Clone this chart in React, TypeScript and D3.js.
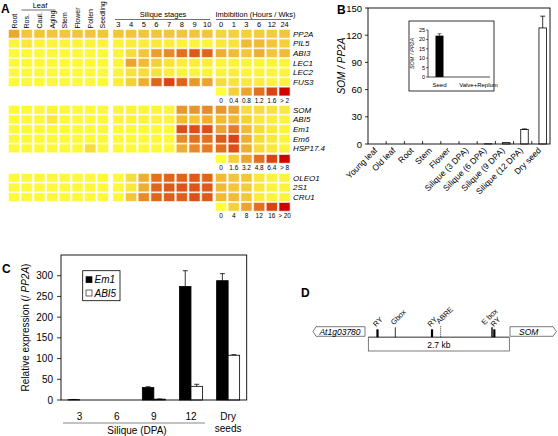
import React from "react";
import * as d3 from "d3";

// ---------- Panel A data ----------
const tissues = ["Root", "Ros.", "Caul.", "Aging", "Stem", "Flower", "Pollen", "Seedling"];
const siliqueStages = ["3", "4", "5", "6", "7", "8", "9", "10"];
const imbibitionTimes = ["0", "1", "3", "6", "12", "24"];

const genesBlock1 = ["PP2A", "PIL5", "ABI3", "LEC1", "LEC2", "FUS3"];
// 8 tissues | 8 silique stages | 6 imbibition (normalised 0..1 of legend range)
const valuesBlock1 = [
  [0.38, 0.25, 0.25, 0.25, 0.25, 0.25, 0.25, 0.25, 0.25, 0.25, 0.25, 0.25, 0.25, 0.25, 0.25, 0.25, 0.18, 0.2, 0.2, 0.22, 0.22, 0.25],
  [0.05, 0.1, 0.05, 0.05, 0.05, 0.05, 0.05, 0.05, 0.05, 0.08, 0.08, 0.1, 0.08, 0.05, 0.05, 0.05, 0.1, 0.12, 0.3, 0.3, 0.25, 0.2],
  [0.03, 0.03, 0.03, 0.03, 0.03, 0.03, 0.03, 0.03, 0.05, 0.15, 0.25, 0.42, 0.5, 0.6, 0.7, 0.65, 0.35, 0.3, 0.25, 0.35, 0.25, 0.3],
  [0.03, 0.03, 0.03, 0.03, 0.03, 0.03, 0.03, 0.03, 0.05, 0.4, 0.3, 0.2, 0.12, 0.08, 0.08, 0.08, 0.05, 0.05, 0.05, 0.05, 0.05, 0.05],
  [0.03, 0.03, 0.03, 0.03, 0.03, 0.03, 0.03, 0.03, 0.05, 0.12, 0.15, 0.12, 0.08, 0.05, 0.05, 0.05, 0.05, 0.08, 0.05, 0.05, 0.05, 0.05],
  [0.03, 0.03, 0.03, 0.03, 0.03, 0.03, 0.03, 0.03, 0.08, 0.2, 0.35, 0.65, 0.8, 0.65, 0.45, 0.4, 0.15, 0.12, 0.1, 0.08, 0.05, 0.05],
];
const legendLabels1 = ["0", "0.4", "0.8", "1.2", "1.6", "> 2"];

const genesBlock2 = ["SOM", "ABI5", "Em1", "Em6", "HSP17.4"];
const valuesBlock2 = [
  [0.03, 0.03, 0.03, 0.05, 0.03, 0.03, 0.03, 0.03, 0.05, 0.05, 0.05, 0.05, 0.05, 0.45, 0.45, 0.5, 0.45, 0.4, 0.15, 0.15, 0.12, 0.1],
  [0.03, 0.03, 0.03, 0.1, 0.03, 0.03, 0.03, 0.03, 0.05, 0.05, 0.05, 0.05, 0.05, 0.3, 0.25, 0.35, 0.3, 0.3, 0.2, 0.1, 0.08, 0.05],
  [0.03, 0.03, 0.03, 0.03, 0.03, 0.03, 0.03, 0.03, 0.03, 0.03, 0.03, 0.03, 0.03, 0.75, 0.75, 0.75, 0.4, 0.55, 0.3, 0.15, 0.1, 0.05],
  [0.03, 0.03, 0.03, 0.03, 0.03, 0.03, 0.03, 0.03, 0.03, 0.03, 0.03, 0.03, 0.03, 0.5, 0.6, 0.6, 0.7, 0.8, 0.35, 0.15, 0.1, 0.05],
  [0.03, 0.03, 0.03, 0.03, 0.03, 0.03, 0.15, 0.03, 0.03, 0.03, 0.03, 0.03, 0.03, 0.35, 0.5, 0.55, 0.6, 0.75, 0.35, 0.15, 0.1, 0.05],
];
const legendLabels2 = ["0", "1.6", "3.2", "4.8", "6.4", "> 8"];

const genesBlock3 = ["OLEO1", "2S1", "CRU1"];
const valuesBlock3 = [
  [0.03, 0.03, 0.03, 0.03, 0.03, 0.03, 0.03, 0.03, 0.03, 0.15, 0.35, 0.6, 0.65, 0.65, 0.7, 0.65, 0.3, 0.25, 0.25, 0.1, 0.05, 0.05],
  [0.03, 0.03, 0.03, 0.03, 0.03, 0.03, 0.03, 0.03, 0.03, 0.1, 0.35, 0.65, 0.7, 0.72, 0.72, 0.7, 0.3, 0.25, 0.22, 0.1, 0.05, 0.05],
  [0.03, 0.03, 0.03, 0.03, 0.03, 0.03, 0.03, 0.03, 0.03, 0.25, 0.5, 0.65, 0.68, 0.68, 0.75, 0.7, 0.3, 0.3, 0.25, 0.08, 0.05, 0.05],
];
const legendLabels3 = ["0", "4", "8", "12", "16", "> 20"];

// ---------- Panel B data ----------
const bCategories = ["Young leaf", "Old leaf", "Root", "Stem", "Flower", "Silique (3 DPA)", "Silique (6 DPA)", "Silique (9 DPA)", "Silique (12 DPA)", "Dry seed"];
const bValues = [0, 0, 0, 0, 0, 0, 0.2, 1.5, 16, 128];
const bErrors = [0, 0, 0, 0, 0, 0, 0, 0.3, 0.6, 13];
const bTicks = [0, 30, 60, 90, 120, 150];
const insetCategories = ["Seed", "Valve+Replum"];
const insetValues = [22, 0];
const insetErrors = [1, 0];
const insetTicks = [0, 5, 10, 15, 20, 25];

// ---------- Panel C data ----------
const cCategories = ["3", "6", "9", "12", "Dry seeds"];
const em1Values = [0.8, 0.3, 30, 274, 288];
const em1Errors = [0.5, 0, 2, 38, 17];
const abi5Values = [0.3, 0.2, 2, 33, 108];
const abi5Errors = [0, 0, 0.5, 5, 1.5];
const cTicks = [0, 50, 100, 150, 200, 250, 300];

// ---------- Panel D data ----------
const promoterLengthBp = 2700;
const promoterElements = [
  { name: "RY", pos: 176, kind: "thick", labelShift: 0 },
  { name: "Gbox", pos: 517, kind: "thin", labelShift: 0 },
  { name: "RY", pos: 1220, kind: "thick", labelShift: 0 },
  { name: "ABRE", pos: 1386, kind: "dotted", labelShift: 0 },
  { name: "E box", pos: 2369, kind: "thin", labelShift: -6 },
  { name: "RY", pos: 2413, kind: "thick", labelShift: 1 },
];

const FONT = "Liberation Sans, Arial, sans-serif";

const heatColor = d3
  .scaleLinear<string>()
  .domain([0, 0.2, 0.4, 0.6, 0.8, 1])
  .range(["#ffff3a", "#f4d13a", "#eba430", "#e2701f", "#da4414", "#d20000"])
  .clamp(true);

const PITCH = 12.7;
const xTissue = d3.scaleBand<string>().domain(tissues).range([7.7, 7.7 + 8 * PITCH]).paddingInner(0.2).paddingOuter(0.1);
const xSilique = d3.scaleBand<string>().domain(siliqueStages).range([112, 112 + 8 * PITCH]).paddingInner(0.2).paddingOuter(0.1);
const xImbib = d3.scaleBand<string>().domain(imbibitionTimes).range([214.7, 214.7 + 6 * PITCH]).paddingInner(0.2).paddingOuter(0.1);

const ROWP = 9.65;

function cellXs(): { x: number; w: number }[] {
  const xs: { x: number; w: number }[] = [];
  tissues.forEach((t) => xs.push({ x: xTissue(t)!, w: xTissue.bandwidth() }));
  siliqueStages.forEach((t) => xs.push({ x: xSilique(t)!, w: xSilique.bandwidth() }));
  imbibitionTimes.forEach((t) => xs.push({ x: xImbib(t)!, w: xImbib.bandwidth() }));
  return xs;
}

function HeatBlock({ genes, values, y0, legend, legendY }: { genes: string[]; values: number[][]; y0: number; legend: string[]; legendY: number }) {
  const yScale = d3.scaleBand<string>().domain(genes).range([y0, y0 + genes.length * ROWP]).paddingInner(0.2).paddingOuter(0.1);
  const xs = cellXs();
  const legendScale = d3.scaleLinear().domain([0, legend.length - 1]).range([0, 1]);
  return (
    <g>
      {genes.map((g, r) => (
        <g key={g}>
          {values[r].map((v, c) => (
            <rect key={c} x={xs[c].x} y={yScale(g)!} width={xs[c].w} height={yScale.bandwidth()} fill={heatColor(v)} stroke={heatColor(v)} strokeOpacity={0.35} strokeWidth={1.2} />
          ))}
          <text x={293} y={yScale(g)! + yScale.bandwidth() / 2 + 3} fontSize={8} fontStyle="italic" fontFamily={FONT}>
            {g}
          </text>
        </g>
      ))}
      {legend.map((l, i) => {
        const t = imbibitionTimes[i];
        return (
          <g key={i}>
            <rect x={xImbib(t)!} y={legendY} width={xImbib.bandwidth()} height={yScale.bandwidth()} fill={heatColor(legendScale(i))} stroke={heatColor(legendScale(i))} strokeOpacity={0.35} strokeWidth={1.2} />
            <text x={xImbib(t)! + xImbib.bandwidth() / 2} y={legendY + yScale.bandwidth() + 7.5} fontSize={6.5} textAnchor="middle" fontFamily={FONT}>
              {l}
            </text>
          </g>
        );
      })}
    </g>
  );
}

function PanelA() {
  return (
    <g fontFamily={FONT}>
      <text x={1} y={13} fontSize={12} fontWeight="bold">A</text>
      {tissues.map((t) => (
        <text key={t} transform={`translate(${xTissue(t)! + xTissue.bandwidth() / 2 + 2.5},28.5) rotate(-90)`} fontSize={7}>
          {t}
        </text>
      ))}
      <text x={40} y={7.5} fontSize={7.5} textAnchor="middle">Leaf</text>
      <line x1={21.5} x2={55.5} y1={10} y2={10} stroke="#333" strokeWidth={0.7} />
      <text x={163} y={17} fontSize={7.5} textAnchor="middle">Silique stages</text>
      <line x1={115} x2={210} y1={19.5} y2={19.5} stroke="#333" strokeWidth={0.7} />
      {siliqueStages.map((s) => (
        <text key={s} x={xSilique(s)! + xSilique.bandwidth() / 2} y={27} fontSize={7.5} textAnchor="middle">{s}</text>
      ))}
      <text x={215.5} y={17} fontSize={7.5}>Imbibition (Hours / Wks)</text>
      <line x1={216} x2={291} y1={19.5} y2={19.5} stroke="#333" strokeWidth={0.7} />
      {imbibitionTimes.map((s) => (
        <text key={s} x={xImbib(s)! + xImbib.bandwidth() / 2} y={27} fontSize={7.5} textAnchor="middle">{s}</text>
      ))}
      <HeatBlock genes={genesBlock1} values={valuesBlock1} y0={29} legend={legendLabels1} legendY={87.7} />
      <HeatBlock genes={genesBlock2} values={valuesBlock2} y0={105} legend={legendLabels2} legendY={155} />
      <HeatBlock genes={genesBlock3} values={valuesBlock3} y0={173} legend={legendLabels3} legendY={203} />
    </g>
  );
}

function PanelB() {
  const x = d3.scaleBand<string>().domain(bCategories).range([368, 550]);
  const y = d3.scaleLinear().domain([0, 150]).range([144, 8]);
  const bw = 7.5;
  const ix = d3.scaleBand<string>().domain(insetCategories).range([420, 498]);
  const iy = d3.scaleLinear().domain([0, 25]).range([77, 30]);
  return (
    <g fontFamily={FONT}>
      <text x={337} y={14} fontSize={12} fontWeight="bold">B</text>
      {bTicks.map((t) => (
        <g key={t}>
          <text x={362} y={y(t) + 3.5} fontSize={9.5} textAnchor="end">{t}</text>
          <line x1={365} x2={368} y1={y(t)} y2={y(t)} stroke="#000" strokeWidth={0.8} />
        </g>
      ))}
      <text transform={`translate(345,${(y(0) + y(150)) / 2 - 10}) rotate(-90)`} fontSize={10} fontStyle="italic" textAnchor="middle">SOM / PP2A</text>
      {bCategories.map((c, i) => {
        const cx = x(c)! + x.bandwidth() / 2 + 1.8;
        return (
          <g key={c}>
            {i > 0 && <line x1={x(c)!} x2={x(c)!} y1={y(0)} y2={y(0) - 3} stroke="#000" strokeWidth={0.8} />}
            {bValues[i] > 0 && (
              <rect x={cx - bw / 2} y={y(bValues[i])} width={bw} height={y(0) - y(bValues[i])} fill="#fff" stroke="#000" strokeWidth={0.8} />
            )}
            {bErrors[i] > 0.5 && (
              <g stroke="#000" strokeWidth={0.8}>
                <line x1={cx} x2={cx} y1={y(bValues[i])} y2={y(bValues[i] + bErrors[i])} />
                <line x1={cx - 2.5} x2={cx + 2.5} y1={y(bValues[i] + bErrors[i])} y2={y(bValues[i] + bErrors[i])} />
              </g>
            )}
            <text transform={`translate(${cx - 1},151) rotate(-45)`} fontSize={8.5} textAnchor="end">{c}</text>
          </g>
        );
      })}
      <rect x={368} y={8} width={182} height={136} fill="none" stroke="#000" strokeWidth={0.9} />
      <rect x={409} y={21} width={85} height={70} fill="#fff" stroke="#000" strokeWidth={0.8} />
      <line x1={428} x2={428} y1={iy(25)} y2={iy(0)} stroke="#000" strokeWidth={0.7} />
      <line x1={428} x2={490} y1={iy(0)} y2={iy(0)} stroke="#000" strokeWidth={0.7} />
      {insetTicks.map((t) => (
        <g key={t}>
          <text x={425} y={iy(t) + 2} fontSize={5.5} textAnchor="end">{t}</text>
          <line x1={426} x2={428} y1={iy(t)} y2={iy(t)} stroke="#000" strokeWidth={0.6} />
        </g>
      ))}
      <text transform={`translate(414,${(iy(0) + iy(25)) / 2}) rotate(-90)`} fontSize={5.5} fontStyle="italic" textAnchor="middle">SOM / PP2A</text>
      {insetCategories.map((c, i) => {
        const cx = ix(c)! + ix.bandwidth() / 2;
        return (
          <g key={c}>
            {insetValues[i] > 0 && <rect x={cx - 4} y={iy(insetValues[i])} width={8} height={iy(0) - iy(insetValues[i])} fill="#000" />}
            {insetErrors[i] > 0 && (
              <g stroke="#000" strokeWidth={0.6}>
                <line x1={cx} x2={cx} y1={iy(insetValues[i])} y2={iy(insetValues[i] + insetErrors[i])} />
                <line x1={cx - 2} x2={cx + 2} y1={iy(insetValues[i] + insetErrors[i])} y2={iy(insetValues[i] + insetErrors[i])} />
              </g>
            )}
            <text x={cx} y={87} fontSize={6} textAnchor="middle">{c}</text>
          </g>
        );
      })}
    </g>
  );
}

function PanelC() {
  const x = d3.scaleBand<string>().domain(cCategories).range([61, 246.7]);
  const y = d3.scaleLinear().domain([0, 350]).range([400, 255]);
  const bw = 11.5;
  const series = [
    { name: "Em1", values: em1Values, errors: em1Errors, fill: "#000", off: -bw },
    { name: "ABI5", values: abi5Values, errors: abi5Errors, fill: "#fff", off: 0 },
  ];
  return (
    <g fontFamily={FONT}>
      <text x={2} y={273} fontSize={12} fontWeight="bold">C</text>
      {cTicks.map((t) => (
        <g key={t}>
          <text x={53} y={y(t) + 3.5} fontSize={10} textAnchor="end">{t}</text>
          <line x1={57} x2={61} y1={y(t)} y2={y(t)} stroke="#000" strokeWidth={0.8} />
        </g>
      ))}
      <text transform={`translate(29,${(y(0) + y(350)) / 2}) rotate(-90)`} fontSize={10} textAnchor="middle">
        Relative expression (/ <tspan fontStyle="italic">PP2A</tspan>)
      </text>
      {series.map((s) => (
        <g key={s.name}>
          {cCategories.map((c, i) => {
            const cx = x(c)! + x.bandwidth() / 2 + s.off;
            const top = y(s.values[i]);
            return (
              <g key={c}>
                {s.values[i] > 0.5 && <rect x={cx} y={top} width={bw} height={y(0) - top} fill={s.fill} stroke="#000" strokeWidth={0.8} />}
                {s.errors[i] > 0 && s.values[i] > 0.5 && (
                  <g stroke="#000" strokeWidth={0.8}>
                    <line x1={cx + bw / 2} x2={cx + bw / 2} y1={top} y2={y(s.values[i] + s.errors[i])} />
                    <line x1={cx + bw / 2 - 2.5} x2={cx + bw / 2 + 2.5} y1={y(s.values[i] + s.errors[i])} y2={y(s.values[i] + s.errors[i])} />
                  </g>
                )}
              </g>
            );
          })}
        </g>
      ))}
      <rect x={61} y={255} width={185.7} height={145} fill="none" stroke="#000" strokeWidth={0.9} />
      {cCategories.map((c) => {
        const cx = x(c)! + x.bandwidth() / 2;
        const parts = c.split(" ");
        return (
          <text key={c} x={cx} y={420} fontSize={10} textAnchor="middle">
            {parts.map((p, j) => (
              <tspan key={j} x={cx} dy={j === 0 ? 0 : 12.3}>{p}</tspan>
            ))}
          </text>
        );
      })}
      <line x1={63} x2={205} y1={423} y2={423} stroke="#555" strokeWidth={0.7} />
      <text x={137} y={433.5} fontSize={10} textAnchor="middle">Silique (DPA)</text>
      <rect x={82.7} y={270.7} width={37.3} height={30} fill="#fff" stroke="#000" strokeWidth={0.8} />
      <rect x={86} y={276.7} width={6} height={6} fill="#000" stroke="#000" strokeWidth={0.6} />
      <text x={94.5} y={283} fontSize={10} fontStyle="italic">Em1</text>
      <rect x={86} y={290} width={6} height={6} fill="#fff" stroke="#000" strokeWidth={0.6} />
      <text x={94.5} y={296.5} fontSize={10} fontStyle="italic">ABI5</text>
    </g>
  );
}

function PanelD() {
  const x = d3.scaleLinear().domain([0, promoterLengthBp]).range([368.3, 509.3]);
  const lineY = 337.3;
  return (
    <g fontFamily={FONT}>
      <text x={301} y={297} fontSize={12} fontWeight="bold">D</text>
      <polygon points="313,331.5 316,326.7 365,326.7 365,336.3 316,336.3" fill="#fff" stroke="#444" strokeWidth={0.7} />
      <text x={340} y={334.5} fontSize={8.5} fontStyle="italic" textAnchor="middle">At1g03780</text>
      <polygon points="510,326.7 553,326.7 556.5,331.5 553,336.3 510,336.3" fill="#fff" stroke="#444" strokeWidth={0.7} />
      <text x={519} y={334.5} fontSize={8.5} fontStyle="italic">SOM</text>
      <rect x={x(0)} y={lineY} width={x(promoterLengthBp) - x(0)} height={13.7} fill="#fff" stroke="#444" strokeWidth={0.7} />
      <line x1={x(0)} x2={x(promoterLengthBp)} y1={lineY} y2={lineY} stroke="#777" strokeWidth={1.4} />
      <text x={(x(0) + x(promoterLengthBp)) / 2} y={347.5} fontSize={8.5} textAnchor="middle">2.7 kb</text>
      {promoterElements.map((e, i) => {
        const px = x(e.pos);
        const h = e.kind === "thick" ? 8 : e.kind === "dotted" ? 11 : 10;
        const w = e.kind === "thick" ? 2.2 : e.kind === "thin" && e.name === "E box" ? 1.4 : 0.8;
        return (
          <g key={i}>
            <line x1={px} x2={px} y1={lineY} y2={lineY - h} stroke="#000" strokeWidth={w} strokeDasharray={e.kind === "dotted" ? "1,1" : undefined} />
            <text transform={`translate(${px - 1.5 + e.labelShift},${lineY - h - 2}) rotate(-45)`} fontSize={7.5}>{e.name}</text>
          </g>
        );
      })}
    </g>
  );
}

export default function App() {
  return (
    <svg width={558} height={436} viewBox="0 0 558 436" style={{ display: "block", position: "absolute", left: 0, top: 0, background: "#fff" }}>
      <rect width={558} height={436} fill="#fff" />
      <PanelA />
      <PanelB />
      <PanelC />
      <PanelD />
    </svg>
  );
}
